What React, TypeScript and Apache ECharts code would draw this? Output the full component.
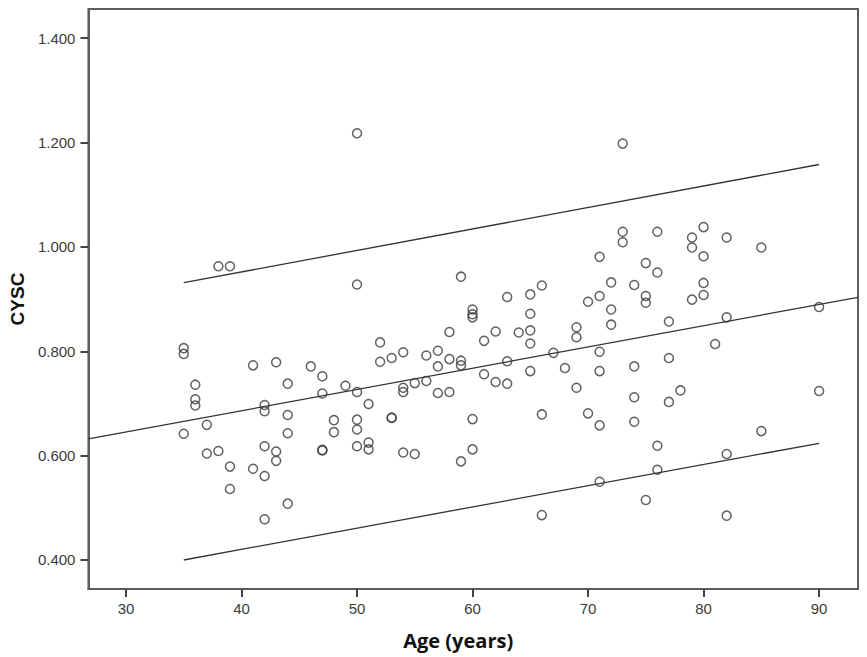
import React, { useEffect, useRef } from "react";
import * as echarts from "echarts";

const xTicks = [30, 40, 50, 60, 70, 80, 90];
const yTicks = [0.4, 0.6, 0.8, 1.0, 1.2, 1.4];

// [age, CYSC]
const points: [number, number][] = [
  [35, 0.806], [35, 0.795], [35, 0.642],
  [36, 0.736], [36, 0.708], [36, 0.696],
  [37, 0.659], [37, 0.604],
  [38, 0.963], [38, 0.609],
  [39, 0.963], [39, 0.579], [39, 0.536],
  [41, 0.773], [41, 0.575],
  [42, 0.697], [42, 0.685], [42, 0.618], [42, 0.561], [42, 0.478],
  [43, 0.779], [43, 0.608], [43, 0.59],
  [44, 0.738], [44, 0.678], [44, 0.643], [44, 0.508],
  [46, 0.771],
  [47, 0.752], [47, 0.719], [47, 0.61], [47, 0.611],
  [48, 0.668], [48, 0.645],
  [49, 0.734],
  [50, 1.218], [50, 0.928], [50, 0.722], [50, 0.669], [50, 0.65], [50, 0.618],
  [51, 0.699], [51, 0.625], [51, 0.612],
  [52, 0.817], [52, 0.78],
  [53, 0.787], [53, 0.673], [53, 0.672],
  [54, 0.798], [54, 0.73], [54, 0.722], [54, 0.606],
  [55, 0.739], [55, 0.603],
  [56, 0.792], [56, 0.743],
  [57, 0.801], [57, 0.771], [57, 0.72],
  [58, 0.837], [58, 0.785], [58, 0.722],
  [59, 0.943], [59, 0.782], [59, 0.773], [59, 0.589],
  [60, 0.88], [60, 0.871], [60, 0.865], [60, 0.67], [60, 0.612],
  [61, 0.82], [61, 0.756],
  [62, 0.838], [62, 0.741],
  [63, 0.904], [63, 0.781], [63, 0.738],
  [64, 0.836],
  [65, 0.909], [65, 0.872], [65, 0.84], [65, 0.815], [65, 0.762],
  [66, 0.926], [66, 0.679], [66, 0.486],
  [67, 0.797],
  [68, 0.768],
  [69, 0.846], [69, 0.827], [69, 0.73],
  [70, 0.895], [70, 0.681],
  [71, 0.981], [71, 0.906], [71, 0.799], [71, 0.762], [71, 0.658], [71, 0.55],
  [72, 0.932], [72, 0.88], [72, 0.851],
  [73, 1.198], [73, 1.029], [73, 1.009],
  [74, 0.927], [74, 0.771], [74, 0.712], [74, 0.665],
  [75, 0.969], [75, 0.906], [75, 0.893], [75, 0.515],
  [76, 1.029], [76, 0.951], [76, 0.619], [76, 0.573],
  [77, 0.857], [77, 0.787], [77, 0.703],
  [78, 0.725],
  [79, 1.018], [79, 0.999], [79, 0.899],
  [80, 1.038], [80, 0.982], [80, 0.931], [80, 0.908],
  [81, 0.814],
  [82, 1.018], [82, 0.865], [82, 0.603], [82, 0.485],
  [85, 0.999], [85, 0.647],
  [90, 0.885], [90, 0.724],
];

const fitLine: [number, number][] = [[26.75, 0.632], [93.37, 0.9035]];
const upperLine: [number, number][] = [[35, 0.9315], [90, 1.158]];
const lowerLine: [number, number][] = [[35, 0.4], [90, 0.6237]];

export default function App() {
  const ref = useRef<HTMLDivElement>(null);
  useEffect(() => {
    if (!ref.current) return;
    const chart = echarts.init(ref.current, null, { renderer: "svg" });
    const lineSeries = (data: [number, number][]) => ({
      type: "line",
      data,
      symbol: "none",
      lineStyle: { color: "#333", width: 1.3 },
      silent: true,
      z: 3,
    });
    chart.setOption({
      animation: false,
      backgroundColor: "#fff",
      grid: {
        left: 86,
        top: 9,
        right: 9,
        bottom: 68,
        show: true,
        borderColor: "#5e5e5e",
        borderWidth: 2,
        backgroundColor: "transparent",
      },
      xAxis: {
        type: "value",
        min: 26.75,
        max: 93.37,
        name: "Age (years)",
        nameLocation: "middle",
        nameGap: 41,
        nameTextStyle: {
          fontFamily: "Open Sans",
          fontWeight: "bold",
          fontSize: 20,
          color: "#111",
          padding: [0, 30, 0, 0],
        },
        axisLine: { show: true, onZero: false, lineStyle: { color: "#5e5e5e", width: 2 } },
        axisTick: {
          show: true,
          length: 8,
          lineStyle: { color: "#444", width: 2 },
          customValues: xTicks,
        },
        axisLabel: {
          margin: 12,
          fontFamily: "Liberation Sans",
          fontSize: 15,
          color: "#3c3c3c",
          customValues: xTicks,
          formatter: (v: number) => String(v),
        },
        splitLine: { show: false },
      },
      yAxis: {
        type: "value",
        min: 0.3444,
        max: 1.456,
        name: "CYSC",
        nameLocation: "middle",
        nameGap: 55,
        nameRotate: 90,
        nameTextStyle: {
          fontFamily: "Liberation Sans",
          fontWeight: "bold",
          fontSize: 19,
          color: "#111",
        },
        axisLine: { show: true, onZero: false, lineStyle: { color: "#5e5e5e", width: 2 } },
        axisTick: {
          show: true,
          length: 8,
          lineStyle: { color: "#444", width: 2 },
          customValues: yTicks,
        },
        axisLabel: {
          margin: 13,
          fontFamily: "Liberation Sans",
          fontSize: 15,
          color: "#3c3c3c",
          customValues: yTicks,
          formatter: (v: number) => v.toFixed(3),
        },
        splitLine: { show: false },
      },
      series: [
        lineSeries(fitLine),
        lineSeries(upperLine),
        lineSeries(lowerLine),
        {
          type: "scatter",
          data: points,
          symbol: "circle",
          symbolSize: 9,
          itemStyle: {
            color: "rgba(255,255,255,0)",
            borderColor: "#383838",
            borderWidth: 1.5,
          },
          z: 4,
        },
      ],
    });
    return () => chart.dispose();
  }, []);
  return (
    <div
      ref={ref}
      style={{ position: "fixed", left: 0, top: 0, width: 867, height: 657, background: "#fff" }}
    />
  );
}
